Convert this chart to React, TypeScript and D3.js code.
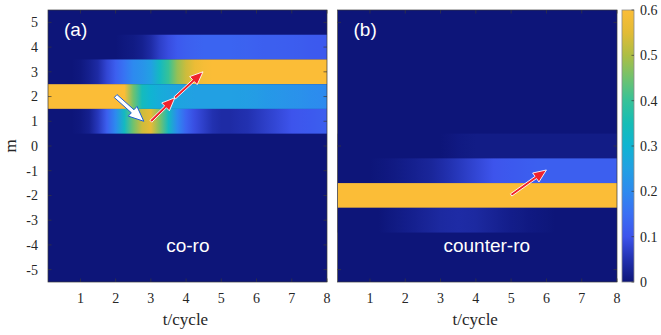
import React from 'react';
import * as d3 from 'd3';

// time samples (cycles) shared by every row
const times = [0, 0.25, 0.5, 0.75, 1, 1.25, 1.5, 1.75, 2, 2.25, 2.5, 2.75, 3, 3.25, 3.5, 3.75, 4,
  4.25, 4.5, 4.75, 5, 5.25, 5.5, 5.75, 6, 6.25, 6.5, 6.75, 7, 7.25, 7.5, 7.75, 8];

const mValues = [5, 4, 3, 2, 1, 0, -1, -2, -3, -4, -5];
const tTicks = [1, 2, 3, 4, 5, 6, 7, 8];
const cbTicks = [0, 0.1, 0.2, 0.3, 0.4, 0.5, 0.6];

// panel (a) co-ro, non-zero rows
const coM4 = [0, 0, 0, 0, 0, 0, 0, 0, 0, 0.005, 0.01, 0.02, 0.04, 0.07, 0.09, 0.11, 0.12, 0.125, 0.13,
  0.13, 0.13, 0.13, 0.128, 0.125, 0.123, 0.12, 0.12, 0.118, 0.116, 0.114, 0.112, 0.11, 0.11];
const coM3 = [0, 0, 0, 0, 0.005, 0.02, 0.04, 0.08, 0.12, 0.16, 0.2, 0.22, 0.25, 0.33, 0.4, 0.48, 0.53,
  0.57, 0.59, 0.6, 0.6, 0.6, 0.6, 0.6, 0.6, 0.6, 0.6, 0.6, 0.6, 0.6, 0.6, 0.6, 0.6];
const coM2 = [0.6, 0.6, 0.6, 0.6, 0.6, 0.6, 0.6, 0.6, 0.6, 0.6, 0.45, 0.34, 0.3, 0.28, 0.27, 0.26, 0.255,
  0.25, 0.25, 0.25, 0.25, 0.25, 0.248, 0.245, 0.24, 0.235, 0.23, 0.225, 0.22, 0.215, 0.21, 0.205, 0.2];
const coM1 = [0, 0, 0, 0, 0.005, 0.02, 0.06, 0.12, 0.2, 0.33, 0.45, 0.53, 0.56, 0.46, 0.33, 0.2, 0.13,
  0.09, 0.07, 0.05, 0.04, 0.04, 0.045, 0.05, 0.06, 0.07, 0.08, 0.09, 0.1, 0.105, 0.11, 0.115, 0.12];

// panel (b) counter-ro, non-zero rows
const ctM0 = [0, 0, 0, 0, 0, 0, 0, 0, 0, 0, 0, 0, 0, 0.004, 0.008, 0.01, 0.012,
  0.012, 0.012, 0.012, 0.012, 0.012, 0.012, 0.012, 0.012, 0.012, 0.012, 0.012, 0.012, 0.012, 0.012, 0.012, 0.012];
const ctMm1 = [0, 0, 0, 0, 0, 0.003, 0.006, 0.01, 0.015, 0.02, 0.025, 0.03, 0.04, 0.05, 0.06, 0.07, 0.08,
  0.09, 0.1, 0.105, 0.11, 0.113, 0.116, 0.12, 0.12, 0.12, 0.12, 0.12, 0.12, 0.12, 0.12, 0.12, 0.12];
const ctMm2 = [0.6, 0.6, 0.6, 0.6, 0.6, 0.6, 0.6, 0.6, 0.6, 0.6, 0.6, 0.6, 0.6, 0.6, 0.6, 0.6, 0.6,
  0.6, 0.6, 0.6, 0.6, 0.6, 0.6, 0.6, 0.6, 0.6, 0.6, 0.6, 0.6, 0.6, 0.6, 0.6, 0.6];
const ctMm3 = [0, 0, 0, 0, 0, 0, 0.005, 0.01, 0.015, 0.02, 0.025, 0.03, 0.035, 0.038, 0.04, 0.038, 0.035,
  0.03, 0.025, 0.02, 0.015, 0.012, 0.008, 0.005, 0.003, 0, 0, 0, 0, 0, 0, 0, 0];

const coRows = [{ m: 4, v: coM4 }, { m: 3, v: coM3 }, { m: 2, v: coM2 }, { m: 1, v: coM1 }];
const ctRows = [{ m: 0, v: ctM0 }, { m: -1, v: ctMm1 }, { m: -2, v: ctMm2 }, { m: -3, v: ctMm3 }];

// arrows [t0, m0, t1, m1]
const coArrowsWhite = [[2.0, 2.02, 2.8, 1.0]];
const coArrowsRed = [[3.0, 1.0, 3.68, 1.95], [3.68, 1.95, 4.48, 3.0]];
const ctArrowsRed = [[5.0, -1.98, 6.0, -0.97]];

const cStops = [0, 0.05, 0.1, 0.15, 0.2, 0.25, 0.3, 0.35, 0.4, 0.45, 0.5, 0.55, 0.6];
const cColors = ['#0d1579', '#2231b0', '#3d54ec', '#3a6ff4', '#2d8aef', '#22a0e3', '#10b4d2',
  '#16bdb6', '#36c298', '#70c26e', '#adbe44', '#e2bb36', '#fbbd37'];

const color = d3.scaleLinear<string>().domain(cStops).range(cColors)
  .interpolate(d3.interpolateRgb).clamp(true);

const W = 661, H = 335;
const top = 10, bottom = 282;
const serif = '"Liberation Serif", "Times New Roman", serif';
const sans = '"Liberation Sans", Arial, sans-serif';
const axisCol = '#3a3a3a';

const y = d3.scaleLinear().domain([5.5, -5.5]).range([top, bottom]);

function arrowPath(x1, y1, x2, y2, sw, hl, hw) {
  const dx = x2 - x1, dy = y2 - y1;
  const L = Math.hypot(dx, dy);
  const ux = dx / L, uy = dy / L;
  const px = -uy, py = ux;
  const bx = x2 - ux * hl, by = y2 - uy * hl;
  const p = [
    [x1 + px * sw / 2, y1 + py * sw / 2],
    [bx + px * sw / 2, by + py * sw / 2],
    [bx + px * hw / 2, by + py * hw / 2],
    [x2, y2],
    [bx - px * hw / 2, by - py * hw / 2],
    [bx - px * sw / 2, by - py * sw / 2],
    [x1 - px * sw / 2, y1 - py * sw / 2],
  ];
  return 'M' + p.map(q => q[0].toFixed(2) + ',' + q[1].toFixed(2)).join('L') + 'Z';
}

function Panel({ id, x0, x1, rows, label, labelT, tag, whiteArrows, redArrows, showY, yTicks }) {
  const x = d3.scaleLinear().domain([0.08, 8]).range([x0, x1]);
  const gx0 = x(times[0]), gx1 = x(times[times.length - 1]);
  const tl = 3.5;
  return (
    <g>
      <defs>
        <clipPath id={id + '-clip'}>
          <rect x={x0} y={top} width={x1 - x0} height={bottom - top} />
        </clipPath>
        {rows.map(r => (
          <linearGradient key={r.m} id={id + '-g' + r.m} gradientUnits="userSpaceOnUse"
            x1={gx0} x2={gx1} y1={0} y2={0}>
            {r.v.map((v, i) => (
              <stop key={i} offset={(x(times[i]) - gx0) / (gx1 - gx0)} stopColor={color(v)} />
            ))}
          </linearGradient>
        ))}
      </defs>
      <g clipPath={`url(#${id}-clip)`}>
        <rect x={x0} y={top} width={x1 - x0} height={bottom - top} fill={color(0)} />
        {rows.map(r => (
          <rect key={r.m} x={x0} y={y(r.m + 0.5)} width={x1 - x0} height={y(r.m - 0.5) - y(r.m + 0.5)}
            fill={`url(#${id}-g${r.m})`} />
        ))}
      </g>
      <rect x={x0} y={top} width={x1 - x0} height={bottom - top} fill="none" stroke={axisCol} strokeWidth={0.7} />
      {tTicks.map(t => (
        <g key={t}>
          <line x1={x(t)} x2={x(t)} y1={bottom} y2={bottom - tl} stroke={axisCol} strokeWidth={0.7} />
          <line x1={x(t)} x2={x(t)} y1={top} y2={top + tl} stroke={axisCol} strokeWidth={0.7} />
          <text x={x(t)} y={303} textAnchor="middle" fontFamily={serif} fontSize={14} fill="#262626">{t}</text>
        </g>
      ))}
      {yTicks.map(m => (
        <g key={m}>
          <line x1={x0} x2={x0 + tl} y1={y(m)} y2={y(m)} stroke={axisCol} strokeWidth={0.7} />
          <line x1={x1} x2={x1 - tl} y1={y(m)} y2={y(m)} stroke={axisCol} strokeWidth={0.7} />
          {showY && (
            <text x={x0 - 10} y={y(m)} dy="0.35em" textAnchor="end" fontFamily={serif} fontSize={14} fill="#262626">{m}</text>
          )}
        </g>
      ))}
      <text x={(x0 + x1) / 2 - 2} y={325} textAnchor="middle" fontFamily={serif} fontSize={17} fill="#262626">t/cycle</text>
      <text x={x0 + 16} y={36} fontFamily={sans} fontSize={19} fill="#ffffff">{tag}</text>
      <text x={x(labelT)} y={252} textAnchor="middle" fontFamily={sans} fontSize={19} fill="#ffffff">{label}</text>
      {whiteArrows.map((a, i) => (
        <path key={'w' + i} d={arrowPath(x(a[0]), y(a[1]), x(a[2]), y(a[3]), 4, 15, 13)}
          fill="#ffffff" stroke="#1d5fd6" strokeWidth={1} strokeLinejoin="miter" />
      ))}
      {redArrows.map((a, i) => (
        <path key={'r' + i} d={arrowPath(x(a[0]), y(a[1]), x(a[2]), y(a[3]), 2.6, 13, 11)}
          fill="#f0222c" stroke="#ffffff" strokeWidth={0.9} strokeLinejoin="miter" />
      ))}
    </g>
  );
}

function Colorbar({ x0, x1 }) {
  const c = d3.scaleLinear().domain([0, 0.6]).range([bottom, top]);
  return (
    <g>
      <defs>
        <linearGradient id="cbg" x1="0" x2="0" y1="1" y2="0">
          {cStops.map((s, i) => (
            <stop key={i} offset={s / 0.6} stopColor={cColors[i]} />
          ))}
        </linearGradient>
      </defs>
      <rect x={x0} y={top} width={x1 - x0} height={bottom - top} fill="url(#cbg)" stroke="#8a8a8a" strokeWidth={0.8} />
      {cbTicks.map(v => (
        <g key={v}>
          <line x1={x1} x2={x1 - 2.5} y1={c(v)} y2={c(v)} stroke={axisCol} strokeWidth={0.7} />
          <text x={x1 + 6} y={c(v)} dy="0.35em" fontFamily={serif} fontSize={14} fill="#262626">{v}</text>
        </g>
      ))}
    </g>
  );
}

export default function App() {
  return (
    <div style={{ position: 'absolute', left: 0, top: 0 }}>
      <svg width={W} height={H} style={{ display: 'block', background: '#ffffff' }}>
        <Panel id="pa" x0={48} x1={327} rows={coRows} label="co-ro" labelT={4.05} tag="(a)"
          whiteArrows={coArrowsWhite} redArrows={coArrowsRed} showY={true} yTicks={mValues} />
        <Panel id="pb" x0={337.5} x1={617} rows={ctRows} label="counter-ro" labelT={4.31} tag="(b)"
          whiteArrows={[]} redArrows={ctArrowsRed} showY={false} yTicks={[5, 0, -5]} />
        <Colorbar x0={622} x1={634} />
        <text transform={`translate(16,${y(0)}) rotate(-90)`} textAnchor="middle" fontFamily={serif}
          fontSize={17} fill="#262626">m</text>
      </svg>
    </div>
  );
}
